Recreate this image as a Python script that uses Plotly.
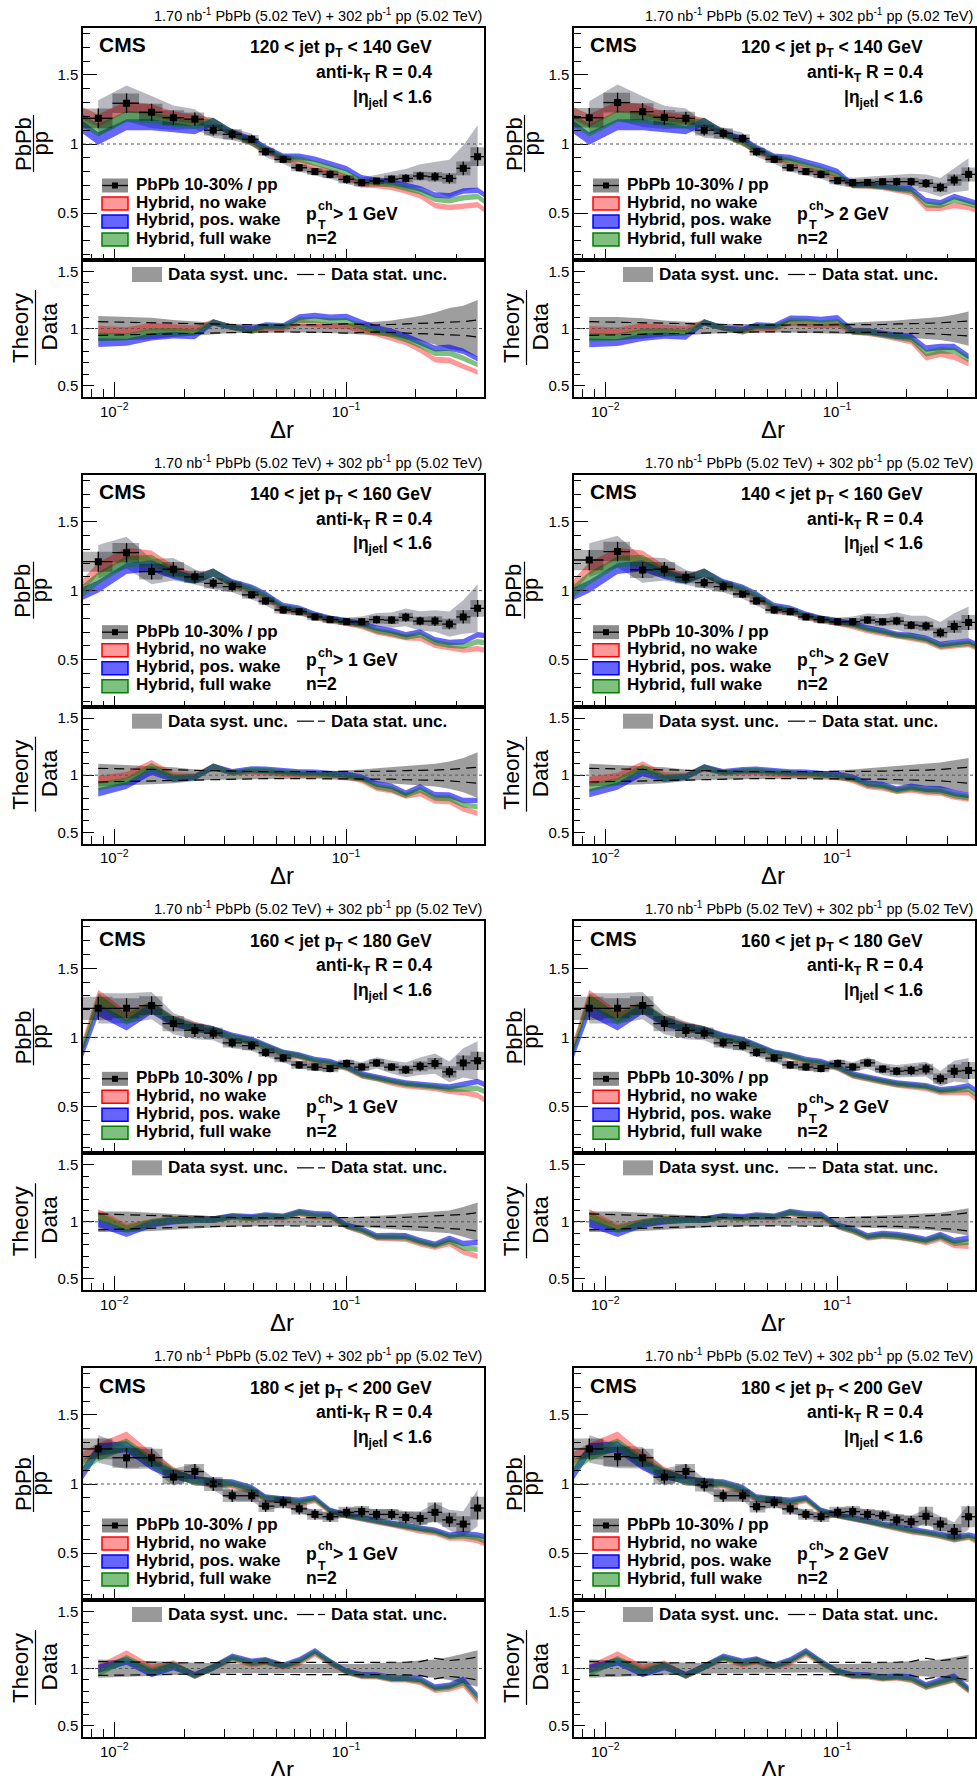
import math
import numpy as np
import plotly.graph_objects as go

W, H = 977, 1776
FONT = "Liberation Sans, Arial, Helvetica, sans-serif"

# ---------------- data ----------------
DR = [0.00853, 0.0113, 0.01449, 0.01799, 0.02228, 0.02673, 0.03228, 0.03917, 0.04498,
      0.05358, 0.06281, 0.07345, 0.08531, 0.1007, 0.1169, 0.1355, 0.1574, 0.1811,
      0.2089, 0.2421, 0.2793, 0.3206, 0.3698]
DR_LO, DR_HI = 0.00733, 0.394
THEORY_DR = [DR_LO] + DR + [DR_HI]

JET_BINS = ["120", "140", "160", "180", "200"]
PTCH = ["1", "2"]

THEORY_HW = [0.045, 0.045, 0.04, 0.04, 0.035, 0.03, 0.03, 0.025, 0.025, 0.025, 0.022, 0.022,
             0.02, 0.02, 0.02, 0.02, 0.02, 0.02, 0.02, 0.02, 0.02, 0.02, 0.02, 0.02, 0.02]

# 120-140, pT>1
DATA_1 = [1.186, 1.295, 1.23, 1.19, 1.18, 1.10, 1.07, 1.034, 0.944, 0.889, 0.828, 0.80, 0.78,
          0.744, 0.72, 0.732, 0.746, 0.751, 0.768, 0.763, 0.751, 0.824, 0.908]
STAT_1 = [0.06, 0.055, 0.05, 0.045, 0.04, 0.035, 0.035, 0.03, 0.03, 0.03, 0.03, 0.03, 0.035,
          0.04, 0.035, 0.03, 0.035, 0.04, 0.04, 0.045, 0.05, 0.06, 0.075]
SYST_1 = [0.11, 0.10, 0.095, 0.075, 0.06, 0.05, 0.04, 0.04, 0.04, 0.035, 0.035, 0.035, 0.04,
          0.045, 0.05, 0.06, 0.07, 0.09, 0.11, 0.14, 0.18, 0.2, 0.25]
NOWAKE_1 = [1.22, 1.17, 1.27, 1.25, 1.20, 1.18, 1.16, 1.08, 1.01, 0.95, 0.89, 0.87, 0.83, 0.80,
            0.76, 0.71, 0.70, 0.685, 0.66, 0.625, 0.555, 0.54, 0.55, 0.56, 0.525]
FULLWAKE_1 = [1.17, 1.10, 1.20, 1.19, 1.16, 1.14, 1.16, 1.08, 1.01, 0.96, 0.90, 0.89, 0.86, 0.83,
              0.79, 0.73, 0.715, 0.705, 0.68, 0.655, 0.60, 0.59, 0.61, 0.62, 0.585]
POSWAKE_1 = [1.12, 1.04, 1.14, 1.14, 1.12, 1.10, 1.16, 1.08, 1.03, 0.97, 0.91, 0.91, 0.89, 0.855,
             0.82, 0.755, 0.735, 0.725, 0.70, 0.675, 0.63, 0.625, 0.66, 0.665, 0.635]

# 120-140, pT>2
DATA_2 = [1.19, 1.30, 1.234, 1.193, 1.186, 1.10, 1.077, 1.04, 0.944, 0.889, 0.828, 0.80, 0.78,
          0.734, 0.72, 0.722, 0.727, 0.727, 0.727, 0.715, 0.686, 0.739, 0.78]
STAT_2 = [0.06, 0.055, 0.05, 0.045, 0.04, 0.035, 0.035, 0.03, 0.03, 0.03, 0.03, 0.03, 0.035,
          0.035, 0.035, 0.035, 0.035, 0.04, 0.04, 0.045, 0.05, 0.055, 0.065]
SYST_2 = [0.10, 0.10, 0.09, 0.07, 0.06, 0.05, 0.04, 0.04, 0.04, 0.035, 0.035, 0.035, 0.04,
          0.045, 0.05, 0.055, 0.06, 0.07, 0.08, 0.09, 0.10, 0.12, 0.15]
NOWAKE_2 = [1.22, 1.17, 1.27, 1.25, 1.20, 1.18, 1.16, 1.08, 1.01, 0.95, 0.89, 0.87, 0.83, 0.80,
            0.76, 0.70, 0.695, 0.685, 0.665, 0.645, 0.535, 0.535, 0.555, 0.54, 0.525]
FULLWAKE_2 = [1.17, 1.10, 1.20, 1.19, 1.16, 1.14, 1.16, 1.08, 1.01, 0.96, 0.90, 0.88, 0.85, 0.815,
              0.775, 0.70, 0.70, 0.69, 0.675, 0.66, 0.56, 0.555, 0.595, 0.57, 0.555]
POSWAKE_2 = [1.12, 1.04, 1.14, 1.14, 1.12, 1.10, 1.16, 1.08, 1.03, 0.97, 0.91, 0.90, 0.87, 0.84,
             0.80, 0.705, 0.705, 0.695, 0.68, 0.675, 0.59, 0.575, 0.62, 0.59, 0.575]

# 140-160, pT>1
DATA_3 = [1.21, 1.275, 1.138, 1.155, 1.10, 1.053, 1.03, 0.97, 0.925, 0.86, 0.848, 0.81, 0.79,
          0.775, 0.775, 0.79, 0.787, 0.807, 0.78, 0.78, 0.758, 0.81, 0.872]
STAT_3 = [0.06, 0.055, 0.05, 0.045, 0.04, 0.035, 0.035, 0.03, 0.03, 0.03, 0.03, 0.03, 0.03,
          0.03, 0.035, 0.035, 0.035, 0.04, 0.04, 0.045, 0.05, 0.06, 0.07]
SYST_3 = [0.10, 0.09, 0.08, 0.07, 0.05, 0.04, 0.04, 0.035, 0.035, 0.035, 0.03, 0.03, 0.035,
          0.04, 0.05, 0.06, 0.07, 0.08, 0.09, 0.10, 0.12, 0.15, 0.20]
NOWAKE_3 = [1.04, 1.16, 1.27, 1.25, 1.15, 1.09, 1.13, 1.05, 1.00, 0.95, 0.87, 0.85, 0.81, 0.79,
            0.765, 0.74, 0.70, 0.68, 0.66, 0.655, 0.605, 0.585, 0.57, 0.58, 0.57]
FULLWAKE_3 = [1.00, 1.09, 1.21, 1.22, 1.13, 1.08, 1.13, 1.05, 1.01, 0.96, 0.88, 0.86, 0.82, 0.795,
              0.77, 0.75, 0.71, 0.69, 0.665, 0.68, 0.625, 0.605, 0.60, 0.63, 0.625]
POSWAKE_3 = [0.98, 1.03, 1.16, 1.18, 1.12, 1.08, 1.13, 1.06, 1.02, 0.97, 0.89, 0.87, 0.83, 0.80,
             0.78, 0.76, 0.73, 0.71, 0.68, 0.70, 0.645, 0.625, 0.63, 0.68, 0.675]

# 140-160, pT>2
DATA_4 = [1.222, 1.283, 1.15, 1.155, 1.097, 1.058, 1.03, 0.976, 0.925, 0.86, 0.848, 0.81, 0.79,
          0.775, 0.775, 0.787, 0.775, 0.78, 0.75, 0.744, 0.696, 0.74, 0.77]
STAT_4 = [0.06, 0.055, 0.05, 0.045, 0.04, 0.035, 0.035, 0.03, 0.03, 0.03, 0.03, 0.03, 0.03,
          0.03, 0.035, 0.035, 0.035, 0.04, 0.04, 0.045, 0.05, 0.06, 0.07]
SYST_4 = [0.10, 0.09, 0.08, 0.07, 0.05, 0.04, 0.04, 0.035, 0.035, 0.035, 0.03, 0.03, 0.035,
          0.04, 0.05, 0.06, 0.07, 0.08, 0.09, 0.10, 0.11, 0.13, 0.15]
NOWAKE_4 = [1.04, 1.16, 1.27, 1.25, 1.15, 1.09, 1.13, 1.05, 1.00, 0.95, 0.87, 0.85, 0.81, 0.79,
            0.765, 0.74, 0.71, 0.69, 0.67, 0.655, 0.635, 0.59, 0.60, 0.61, 0.59]
FULLWAKE_4 = [1.00, 1.09, 1.21, 1.22, 1.13, 1.08, 1.13, 1.05, 1.01, 0.96, 0.88, 0.86, 0.82, 0.795,
              0.77, 0.75, 0.72, 0.70, 0.675, 0.665, 0.645, 0.60, 0.61, 0.62, 0.60]
POSWAKE_4 = [0.98, 1.03, 1.16, 1.18, 1.12, 1.08, 1.13, 1.06, 1.02, 0.97, 0.89, 0.87, 0.83, 0.80,
             0.78, 0.76, 0.73, 0.71, 0.685, 0.675, 0.655, 0.61, 0.625, 0.635, 0.615]

# 160-180, pT>1
DATA_5 = [1.21, 1.21, 1.23, 1.10, 1.05, 1.03, 0.96, 0.94, 0.89, 0.85, 0.80, 0.785, 0.775, 0.81,
          0.785, 0.815, 0.785, 0.765, 0.79, 0.81, 0.75, 0.815, 0.83]
STAT_5 = [0.07, 0.06, 0.055, 0.05, 0.045, 0.04, 0.035, 0.035, 0.035, 0.035, 0.035, 0.035, 0.035,
          0.035, 0.035, 0.035, 0.035, 0.04, 0.045, 0.05, 0.055, 0.065, 0.08]
SYST_5 = [0.09, 0.09, 0.08, 0.07, 0.06, 0.05, 0.04, 0.04, 0.035, 0.035, 0.035, 0.035, 0.035,
          0.04, 0.045, 0.05, 0.06, 0.07, 0.08, 0.09, 0.10, 0.13, 0.17]
NOWAKE_5 = [0.95, 1.30, 1.15, 1.22, 1.12, 1.08, 1.05, 1.00, 0.97, 0.93, 0.88, 0.86, 0.82, 0.81,
            0.775, 0.72, 0.70, 0.67, 0.65, 0.64, 0.63, 0.61, 0.60, 0.58, 0.55]
FULLWAKE_5 = [0.93, 1.27, 1.13, 1.22, 1.12, 1.07, 1.05, 1.00, 0.97, 0.93, 0.885, 0.865, 0.83,
              0.815, 0.78, 0.725, 0.705, 0.68, 0.66, 0.65, 0.64, 0.625, 0.63, 0.63, 0.61]
POSWAKE_5 = [0.90, 1.20, 1.09, 1.21, 1.11, 1.07, 1.05, 1.01, 0.98, 0.94, 0.89, 0.87, 0.84, 0.825,
             0.785, 0.735, 0.715, 0.69, 0.67, 0.66, 0.65, 0.64, 0.66, 0.68, 0.66]

# 160-180, pT>2
DATA_6 = [1.21, 1.21, 1.23, 1.10, 1.05, 1.03, 0.96, 0.94, 0.89, 0.85, 0.80, 0.785, 0.775, 0.81,
          0.785, 0.815, 0.77, 0.755, 0.76, 0.77, 0.70, 0.755, 0.76]
STAT_6 = [0.07, 0.06, 0.055, 0.05, 0.045, 0.04, 0.035, 0.035, 0.035, 0.035, 0.035, 0.035, 0.035,
          0.035, 0.035, 0.035, 0.035, 0.04, 0.045, 0.05, 0.055, 0.065, 0.08]
SYST_6 = [0.09, 0.09, 0.08, 0.07, 0.06, 0.05, 0.04, 0.04, 0.035, 0.035, 0.035, 0.035, 0.035,
          0.04, 0.045, 0.05, 0.055, 0.06, 0.065, 0.07, 0.08, 0.10, 0.12]
NOWAKE_6 = [0.95, 1.30, 1.15, 1.22, 1.12, 1.08, 1.05, 1.00, 0.97, 0.93, 0.88, 0.86, 0.82, 0.81,
            0.775, 0.72, 0.70, 0.675, 0.655, 0.645, 0.63, 0.60, 0.60, 0.60, 0.56]
FULLWAKE_6 = [0.93, 1.27, 1.13, 1.22, 1.12, 1.07, 1.05, 1.00, 0.97, 0.93, 0.885, 0.865, 0.83,
              0.815, 0.78, 0.725, 0.705, 0.68, 0.66, 0.65, 0.64, 0.61, 0.615, 0.625, 0.59]
POSWAKE_6 = [0.90, 1.20, 1.09, 1.21, 1.11, 1.07, 1.05, 1.01, 0.98, 0.94, 0.89, 0.87, 0.84, 0.825,
             0.785, 0.735, 0.715, 0.69, 0.67, 0.66, 0.65, 0.62, 0.63, 0.65, 0.62]

# 180-200, pT>1
DATA_7 = [1.254, 1.19, 1.19, 1.05, 1.09, 1.0, 0.915, 0.915, 0.84, 0.867, 0.82, 0.78, 0.763,
          0.795, 0.80, 0.78, 0.78, 0.758, 0.75, 0.795, 0.74, 0.71, 0.826]
STAT_7 = [0.06, 0.06, 0.055, 0.05, 0.05, 0.05, 0.05, 0.05, 0.05, 0.05, 0.05, 0.05, 0.05, 0.05,
          0.05, 0.05, 0.05, 0.055, 0.06, 0.09, 0.07, 0.08, 0.10]
SYST_7 = [0.08, 0.07, 0.065, 0.06, 0.05, 0.045, 0.04, 0.04, 0.04, 0.035, 0.035, 0.035, 0.035,
          0.04, 0.04, 0.045, 0.05, 0.06, 0.07, 0.08, 0.10, 0.13, 0.16]
NOWAKE_7 = [1.19, 1.25, 1.34, 1.19, 1.09, 1.02, 1.01, 0.99, 0.95, 0.89, 0.88, 0.86, 0.88, 0.80,
            0.77, 0.745, 0.725, 0.705, 0.685, 0.66, 0.645, 0.61, 0.61, 0.59, 0.57]
FULLWAKE_7 = [1.13, 1.21, 1.29, 1.16, 1.08, 1.02, 1.01, 1.00, 0.96, 0.895, 0.885, 0.87, 0.89,
              0.805, 0.77, 0.75, 0.73, 0.71, 0.69, 0.67, 0.655, 0.62, 0.625, 0.61, 0.59]
POSWAKE_7 = [1.08, 1.25, 1.27, 1.14, 1.07, 1.03, 1.01, 1.01, 0.97, 0.90, 0.89, 0.88, 0.90, 0.81,
             0.775, 0.755, 0.735, 0.715, 0.695, 0.68, 0.665, 0.63, 0.64, 0.63, 0.62]

# 180-200, pT>2
DATA_8 = [1.254, 1.198, 1.19, 1.05, 1.09, 0.995, 0.915, 0.915, 0.836, 0.867, 0.82, 0.78, 0.763,
          0.795, 0.80, 0.78, 0.77, 0.74, 0.727, 0.766, 0.71, 0.657, 0.763]
STAT_8 = [0.06, 0.06, 0.055, 0.05, 0.05, 0.05, 0.05, 0.05, 0.05, 0.05, 0.05, 0.05, 0.05, 0.05,
          0.05, 0.05, 0.05, 0.055, 0.06, 0.09, 0.07, 0.08, 0.10]
SYST_8 = [0.08, 0.07, 0.065, 0.06, 0.05, 0.045, 0.04, 0.04, 0.04, 0.035, 0.035, 0.035, 0.035,
          0.04, 0.04, 0.045, 0.05, 0.055, 0.06, 0.07, 0.08, 0.10, 0.12]
NOWAKE_8 = [1.19, 1.25, 1.34, 1.19, 1.09, 1.02, 1.01, 0.99, 0.95, 0.89, 0.88, 0.86, 0.88, 0.80,
            0.77, 0.745, 0.725, 0.70, 0.68, 0.655, 0.64, 0.62, 0.595, 0.615, 0.59]
FULLWAKE_8 = [1.13, 1.21, 1.29, 1.16, 1.08, 1.02, 1.01, 1.00, 0.96, 0.895, 0.885, 0.87, 0.89,
              0.805, 0.77, 0.75, 0.73, 0.705, 0.685, 0.66, 0.645, 0.625, 0.60, 0.62, 0.60]
POSWAKE_8 = [1.08, 1.25, 1.27, 1.14, 1.07, 1.03, 1.01, 1.01, 0.97, 0.90, 0.89, 0.88, 0.90, 0.81,
             0.775, 0.755, 0.735, 0.71, 0.69, 0.67, 0.655, 0.635, 0.61, 0.63, 0.62]

PANELS = [
    (DATA_1, STAT_1, SYST_1, NOWAKE_1, POSWAKE_1, FULLWAKE_1),
    (DATA_2, STAT_2, SYST_2, NOWAKE_2, POSWAKE_2, FULLWAKE_2),
    (DATA_3, STAT_3, SYST_3, NOWAKE_3, POSWAKE_3, FULLWAKE_3),
    (DATA_4, STAT_4, SYST_4, NOWAKE_4, POSWAKE_4, FULLWAKE_4),
    (DATA_5, STAT_5, SYST_5, NOWAKE_5, POSWAKE_5, FULLWAKE_5),
    (DATA_6, STAT_6, SYST_6, NOWAKE_6, POSWAKE_6, FULLWAKE_6),
    (DATA_7, STAT_7, SYST_7, NOWAKE_7, POSWAKE_7, FULLWAKE_7),
    (DATA_8, STAT_8, SYST_8, NOWAKE_8, POSWAKE_8, FULLWAKE_8),
]
for p in PANELS:
    assert all(len(a) == len(DR) for a in p[:3]), [len(a) for a in p[:3]]
    assert all(len(a) == len(THEORY_DR) for a in p[3:]), [len(a) for a in p[3:]]

# ---------------- styles ----------------
RED_FILL = "rgba(255,0,0,0.40)"
BLUE_FILL = "rgba(0,0,255,0.60)"
GREEN_FILL = "rgba(0,128,0,0.50)"
SYST_MAIN_FILL = "rgba(30,35,60,0.32)"
BOX_FILL = "rgba(0,0,0,0.30)"
SYST_RATIO_FILL = "rgba(0,0,0,0.38)"

COL_X = [(83, 484), (574, 975)]
ROW_Y0, ROW_DY = 28.0, 446.67
MAIN_H, RATIO_H = 232.0, 137.0

MINOR_X = [0.008, 0.009, 0.02, 0.03, 0.04, 0.05, 0.06, 0.07, 0.08, 0.09, 0.2, 0.3]
MINOR_Y_MAIN = [0.2, 0.3, 0.4, 0.6, 0.7, 0.8, 0.9, 1.1, 1.2, 1.3, 1.4, 1.6, 1.7, 1.8]
MINOR_Y_RATIO = [0.6, 0.7, 0.8, 0.9, 1.1, 1.2, 1.3, 1.4]

fig = go.Figure()
layout = dict(width=W, height=H, margin=dict(l=0, r=0, t=0, b=0), autosize=False,
              paper_bgcolor="white", plot_bgcolor="white", showlegend=False)
shapes, annotations = [], []


def px(x):
    return x / W


def py(y):
    return 1 - y / H


def text(x, y, s, size, bold=False, xa="left", ya="middle", angle=0):
    annotations.append(dict(x=px(x), y=py(y), xref="paper", yref="paper",
                            text=("<b>" + s + "</b>") if bold else s, showarrow=False,
                            xanchor=xa, yanchor=ya, textangle=angle, borderpad=0,
                            font=dict(family=FONT, size=size, color="black")))


def rect(x0, y0, x1, y1, fill, line=None, lw=0):
    shapes.append(dict(type="rect", xref="paper", yref="paper", x0=px(x0), x1=px(x1),
                       y0=py(y1), y1=py(y0), fillcolor=fill,
                       line=dict(color=line or "rgba(0,0,0,0)", width=lw)))


def hline(x0, x1, y, color="black", width=1.5, dash="solid"):
    shapes.append(dict(type="line", xref="paper", yref="paper", x0=px(x0), x1=px(x1),
                       y0=py(y), y1=py(y), line=dict(color=color, width=width, dash=dash)))


def vline(x, y0, y1, color="black", width=1.2):
    shapes.append(dict(type="line", xref="paper", yref="paper", x0=px(x), x1=px(x),
                       y0=py(y0), y1=py(y1), line=dict(color=color, width=width)))


def axname(n):
    return ("x" if n == 1 else f"x{n}"), ("y" if n == 1 else f"y{n}")


def band(xs, lo, hi, fill, xa, ya):
    xs = list(xs)
    fig.add_trace(go.Scatter(x=xs + xs[::-1], y=list(hi) + list(lo)[::-1], fill="toself",
                             fillcolor=fill, mode="lines", line=dict(width=0),
                             hoverinfo="skip", xaxis=xa, yaxis=ya))


edges = [DR_LO] + [math.sqrt(a * b) for a, b in zip(DR[:-1], DR[1:])] + [DR_HI]
ex_plus = [edges[i + 1] - DR[i] for i in range(len(DR))]
ex_minus = [DR[i] - edges[i] for i in range(len(DR))]

for k, (data, stat, syst, nowake, poswake, fullwake) in enumerate(PANELS):
    r, c = divmod(k, 2)
    x0, x1 = COL_X[c]
    dx = x0 - COL_X[0][0]
    top = ROW_Y0 + r * ROW_DY
    split = top + MAIN_H
    bot = split + RATIO_H
    nm, nr = 2 * k + 1, 2 * k + 2
    xm, ym = axname(nm)
    xr, yr = axname(nr)

    d = np.array(data)
    st = np.array(stat)
    sy = np.array(syst)
    hw = np.array(THEORY_HW)
    th = {"no": np.array(nowake), "pos": np.array(poswake), "full": np.array(fullwake)}

    def xcfg(anchor, ratio):
        return dict(type="log", domain=[px(x0), px(x1)], anchor=anchor,
                    range=[math.log10(DR_LO), math.log10(DR_HI)], showgrid=False,
                    zeroline=False, showline=True, mirror=True, linecolor="black",
                    linewidth=1.5, ticks="inside", ticklen=15 if ratio else 11, tickwidth=1,
                    tickcolor="black", tickmode="array", tickvals=[0.01, 0.1],
                    ticktext=["10<sup>\u22122</sup>", "10<sup>\u22121</sup>"],
                    showticklabels=ratio,
                    tickfont=dict(family=FONT, size=15, color="black"),
                    minor=dict(tickmode="array", tickvals=MINOR_X, ticks="inside",
                               ticklen=8 if ratio else 6, tickcolor="black", tickwidth=1,
                               showgrid=False))

    def ycfg(anchor, ratio, dom):
        return dict(domain=dom, anchor=anchor, range=[0.4, 1.6] if ratio else [0.16, 1.84],
                    showgrid=False, zeroline=False, showline=True, mirror=True,
                    linecolor="black", linewidth=1.5, ticks="inside",
                    ticklen=11 if ratio else 14, tickwidth=1, tickcolor="black",
                    tickmode="array", tickvals=[0.5, 1, 1.5], ticktext=["0.5", "1", "1.5"],
                    tickfont=dict(family=FONT, size=15, color="black"),
                    minor=dict(tickmode="array",
                               tickvals=MINOR_Y_RATIO if ratio else MINOR_Y_MAIN,
                               ticks="inside", ticklen=6 if ratio else 7, tickcolor="black",
                               tickwidth=1, showgrid=False))

    kx = "xaxis" if nm == 1 else f"xaxis{nm}"
    ky = "yaxis" if nm == 1 else f"yaxis{nm}"
    layout[kx] = xcfg(ym, False)
    layout[ky] = ycfg(xm, False, [py(split), py(top)])
    layout[f"xaxis{nr}"] = xcfg(yr, True)
    layout[f"yaxis{nr}"] = ycfg(xr, True, [py(bot), py(split)])

    # ---- main panel ----
    band(DR, d * (1 - sy), d * (1 + sy), SYST_MAIN_FILL, xm, ym)
    band(THEORY_DR, th["no"] - hw, th["no"] + hw, RED_FILL, xm, ym)
    band(THEORY_DR, th["pos"] - hw, th["pos"] + hw, BLUE_FILL, xm, ym)
    band(THEORY_DR, th["full"] - hw, th["full"] + hw, GREEN_FILL, xm, ym)
    bx, by = [], []
    for i in range(len(DR)):
        lo, hi = d[i] - st[i] * d[i], d[i] + st[i] * d[i]
        bx += [edges[i], edges[i + 1], edges[i + 1], edges[i], edges[i], None]
        by += [lo, lo, hi, hi, lo, None]
    fig.add_trace(go.Scatter(x=bx, y=by, fill="toself", fillcolor=BOX_FILL, mode="lines",
                             line=dict(width=0), hoverinfo="skip", xaxis=xm, yaxis=ym))
    fig.add_trace(go.Scatter(
        x=DR, y=list(d), mode="markers", xaxis=xm, yaxis=ym,
        marker=dict(symbol="square", size=7, color="black"),
        error_y=dict(type="data", array=list(st * d), color="black", thickness=1.3, width=0),
        error_x=dict(type="data", array=ex_plus, arrayminus=ex_minus, color="black",
                     thickness=1.3, width=0)))
    shapes.append(dict(type="line", xref=f"{xm} domain", yref=ym, x0=0, x1=1, y0=1, y1=1,
                       line=dict(color="#555", width=1, dash="dot")))

    # ---- ratio panel ----
    band(DR, 1 - sy, 1 + sy, SYST_RATIO_FILL, xr, yr)
    for key, col in (("no", RED_FILL), ("pos", BLUE_FILL), ("full", GREEN_FILL)):
        cc = th[key][1:-1]
        hh = hw[1:-1]
        band(DR, (cc - hh) / d, (cc + hh) / d, col, xr, yr)
    for sgn in (1, -1):
        fig.add_trace(go.Scatter(x=DR, y=list(1 + sgn * st), mode="lines", xaxis=xr, yaxis=yr,
                                 line=dict(color="black", width=1.2, dash="10px,6px"),
                                 hoverinfo="skip"))
    shapes.append(dict(type="line", xref=f"{xr} domain", yref=yr, x0=0, x1=1, y0=1, y1=1,
                       line=dict(color="#555", width=1, dash="dot")))

    # ---- texts ----
    oy = r * ROW_DY
    text(x1 - 1, 15 + oy, "1.70 nb<sup>-1</sup> PbPb (5.02 TeV) + 302 pb<sup>-1</sup> pp (5.02 TeV)",
         14.5, xa="right")
    text(98 + dx, 45 + oy, "CMS", 21, bold=True)
    lo_pt, hi_pt = JET_BINS[r], JET_BINS[r + 1]
    text(433 + dx, 49 + oy, f"{lo_pt} &lt; jet p<sub>T</sub> &lt; {hi_pt} GeV", 17.5, bold=True,
         xa="right")
    text(433 + dx, 73.5 + oy, "anti-k<sub>T</sub> R = 0.4", 17.5, bold=True, xa="right")
    text(433 + dx, 98 + oy, "|\u03b7<sub>jet</sub>| &lt; 1.6", 17.5, bold=True, xa="right")

    # legend (main)
    rect(102 + dx, 178.5 + oy, 128 + dx, 192.5 + oy, "rgba(0,0,0,0.45)")
    hline(102 + dx, 128 + dx, 185.5 + oy, width=1.3)
    rect(112 + dx, 182.5 + oy, 118 + dx, 188.5 + oy, "black")
    text(135 + dx, 184.5 + oy, "PbPb 10-30% / pp", 17, bold=True)
    ys = [203.5, 221.5, 239.5]
    labs = ["Hybrid, no wake", "Hybrid, pos. wake", "Hybrid, full wake"]
    fills = [RED_FILL, BLUE_FILL, GREEN_FILL]
    lines = ["#ff0000", "#0000ff", "#008000"]
    for yy, lb, fl, ln in zip(ys, labs, fills, lines):
        rect(102 + dx, yy - 6.5 + oy, 128 + dx, yy + 6.5 + oy, fl, ln, 1.5)
        text(135 + dx, yy - 1.5 + oy, lb, 17, bold=True)
    text(305 + dx, 213.7 + oy, "p", 17.5, bold=True)
    text(316.5 + dx, 206 + oy, "ch", 12.5, bold=True)
    text(317 + dx, 225.5 + oy, "T", 12.5, bold=True)
    text(332 + dx, 213.7 + oy, "&gt; " + PTCH[c] + " GeV", 17.5, bold=True)
    text(305 + dx, 237.5 + oy, "n=2", 17.5, bold=True)

    # legend (ratio)
    rect(132 + dx, 267 + oy, 162 + dx, 282 + oy, "rgba(0,0,0,0.40)")
    text(167 + dx, 274.5 + oy, "Data syst. unc.", 17, bold=True)
    hline(297 + dx, 314 + dx, 274.5 + oy, width=1.2)
    hline(318 + dx, 325 + dx, 274.5 + oy, width=1.2)
    text(330 + dx, 274.5 + oy, "Data stat. unc.", 17, bold=True)

    # axis titles
    text(23 + dx, 144 + oy, "PbPb", 22, angle=-90, xa="center")
    text(39.5 + dx, 144 + oy, "pp", 22, angle=-90, xa="center")
    vline(33.5 + dx, 115 + oy, 172 + oy)
    text(20.5 + dx, 327.5 + oy, "Theory", 22.5, angle=-90, xa="center")
    text(49.5 + dx, 327 + oy, "Data", 22.5, angle=-90, xa="center")
    vline(35.5 + dx, 290 + oy, 365 + oy)
    text(282 + dx, 429 + oy, "\u0394r", 24, xa="center")

layout["shapes"] = shapes
layout["annotations"] = annotations
fig.update_layout(**layout)
fig.write_html(
    "out.html",
    config={"displayModeBar": False},
    post_script="document.body.style.margin='0';document.body.style.padding='0';"
                "document.body.style.overflow='hidden';")
